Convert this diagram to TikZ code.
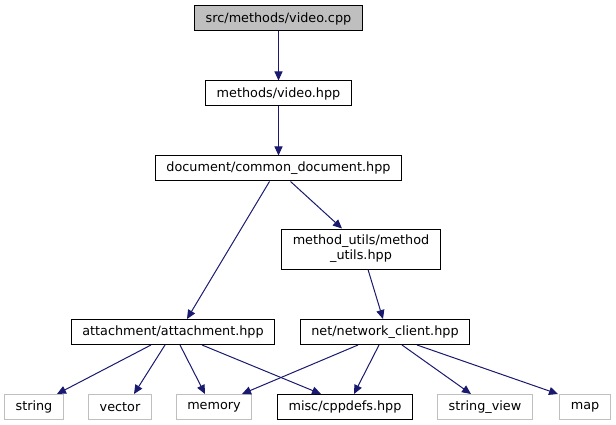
\documentclass[tikz,border=0pt]{standalone}
\usepackage{fontspec}
\setmainfont{DejaVu Sans}
\usepackage{tikz}
\usetikzlibrary{arrows.meta, positioning}
\usepackage{xcolor}
\definecolor{edgeblue}{HTML}{191970}
\definecolor{extgrey}{HTML}{BFBFBF}

\begin{document}
\begin{tikzpicture}[
    x=1pt, y=-1pt,
    node distance=49pt,
    file/.style={rectangle, draw=black, line width=1pt, fill=white, inner xsep=11pt, inner ysep=0pt, minimum height=25pt, align=center, font=\fontsize{12.8}{15}\selectfont},
    rootfile/.style={file, fill=extgrey},
    extfile/.style={file, draw=extgrey},
    arrow/.style={-{Triangle[length=9pt, width=8pt]}, edgeblue, line width=1pt}
]
    \useasboundingbox (0,0) rectangle (616,425);

    \node[rootfile] (cpp) at (278.5,18.5) {src/methods/video.cpp};
    \node[file, below=of cpp] (videohpp) {methods/video.hpp};
    \node[file, below=of videohpp] (commondoc) {document/common\_document.hpp};
    \node[file, minimum height=40pt] (methodutils) at (361,249) {method\_utils/method\\\_utils.hpp};
    \node[file] (attachment) at (173,332) {attachment/attachment.hpp};
    \node[file] (netclient) at (385,332) {net/network\_client.hpp};
    \node[extfile] (string) at (34,407) {string};
    \node[extfile] (vector) at (120,407) {vector};
    \node[extfile] (memory) at (214,407) {memory};
    \node[file] (cppdefs) at (345,407) {misc/cppdefs.hpp};
    \node[extfile] (stringview) at (485,407) {string\_view};
    \node[extfile] (map) at (585,407) {map};

    \draw[arrow] (cpp) -- (videohpp);
    \draw[arrow] (videohpp) -- (commondoc);
    \draw[arrow] ([xshift=-9pt]commondoc.south) -- ([xshift=14pt]attachment.north);
    \draw[arrow] ([xshift=12pt]commondoc.south) -- ([xshift=-19pt]methodutils.north);
    \draw[arrow] ([xshift=7pt]methodutils.south) -- ([xshift=-2pt]netclient.north);
    \draw[arrow] ([xshift=-22pt]attachment.south) -- ([xshift=23pt]string.north);
    \draw[arrow] ([xshift=-8pt]attachment.south) -- ([xshift=14pt]vector.north);
    \draw[arrow] ([xshift=7pt]attachment.south) -- ([xshift=-9pt]memory.north);
    \draw[arrow] ([xshift=29pt]attachment.south) -- ([xshift=-24pt]cppdefs.north);
    \draw[arrow] ([xshift=-27pt]netclient.south) -- ([xshift=28pt]memory.north);
    \draw[arrow] ([xshift=-6pt]netclient.south) -- ([xshift=9pt]cppdefs.north);
    \draw[arrow] ([xshift=17pt]netclient.south) -- ([xshift=-14pt]stringview.north);
    \draw[arrow] ([xshift=32pt]netclient.south) -- ([xshift=-27pt]map.north);
\end{tikzpicture}
\end{document}
